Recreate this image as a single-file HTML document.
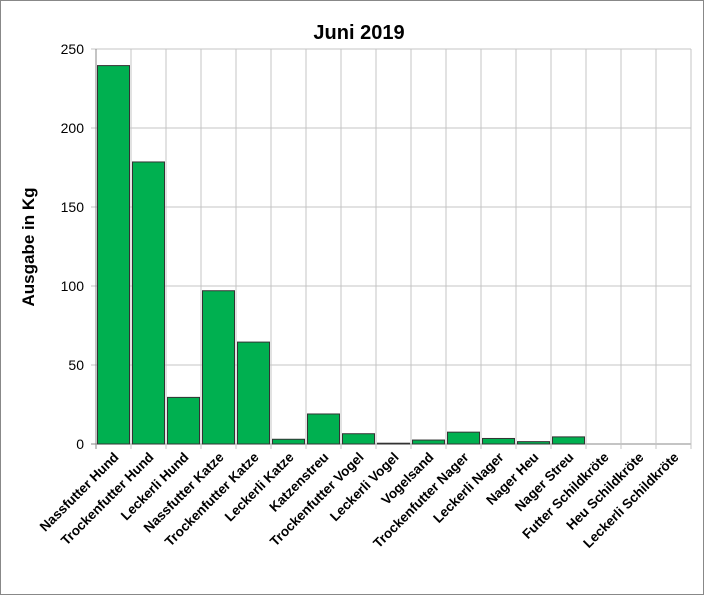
<!DOCTYPE html>
<html><head><meta charset="utf-8"><style>
body{margin:0;background:#fff;font-family:"Liberation Sans",Arial,sans-serif}
#wrap{position:relative;width:702px;height:593px;border:1px solid #888;background:#fff}
</style></head><body>
<div id="wrap">
<svg id="chart" width="702" height="593"></svg>
</div>
<script>
const categories=["Nassfutter Hund","Trockenfutter Hund","Leckerli Hund","Nassfutter Katze","Trockenfutter Katze","Leckerli Katze","Katzenstreu","Trockenfutter Vogel","Leckerli Vogel","Vogelsand","Trockenfutter Nager","Leckerli Nager","Nager Heu","Nager Streu","Futter Schildkröte","Heu Schildkröte","Leckerli Schildkröte"];
const values=[239.5,178.5,29.5,97,64.5,3,19,6.5,0.5,2.5,7.5,3.5,1.5,4.5,0,0,0];
const yTicks=[0,50,100,150,200,250];
const NS="http://www.w3.org/2000/svg";
const svg=document.getElementById("chart");
const L=95,R=690,T=48,B=443,yMax=250;
const bw=(R-L)/categories.length;
const y=v=>B-(v/yMax)*(B-T);
const x=i=>L+i*bw;
function mk(t,a){const e=document.createElementNS(NS,t);for(const k in a)e.setAttribute(k,a[k]);svg.appendChild(e);return e;}
const title=mk("text",{x:358,y:38,"text-anchor":"middle","font-size":20,"font-weight":"bold",fill:"#000"});
title.textContent="Juni 2019";


const yt=mk("text",{transform:"translate(33,246) rotate(-90)","text-anchor":"middle","font-size":17,"font-weight":"bold"});
yt.textContent="Ausgabe in Kg";


yTicks.forEach(t=>{
 const g=mk("line",{x1:L-5,x2:R,y1:y(t),y2:y(t),stroke:t===0?"#888":"#c4c4c4","stroke-width":1});
 
 
 const l=mk("text",{x:L-12,y:y(t)+5,"text-anchor":"end","font-size":14,fill:"#000"});
 l.textContent=t;
 
 
});
for(let i=0;i<=categories.length;i++){
 const g=mk("line",{x1:x(i),x2:x(i),y1:T,y2:B+5,stroke:i===0?"#888":"#c4c4c4","stroke-width":1});
 
 
}
categories.forEach((c,i)=>{
 const v=values[i];
 if(v>0){
  const r=mk("rect",{x:x(i)+1.5,y:y(v),width:bw-3,height:B-y(v),fill:"#00b050",stroke:"#333","stroke-width":1});
  
  
 }
 const cx=x(i)+bw/2+6, cy=B+14;
 const t=mk("text",{x:cx,y:cy,"text-anchor":"end","font-size":13.5,"font-weight":"bold",transform:`rotate(-45 ${cx} ${cy})`});
 t.textContent=c;
 
 
});
</script>
</body></html>
